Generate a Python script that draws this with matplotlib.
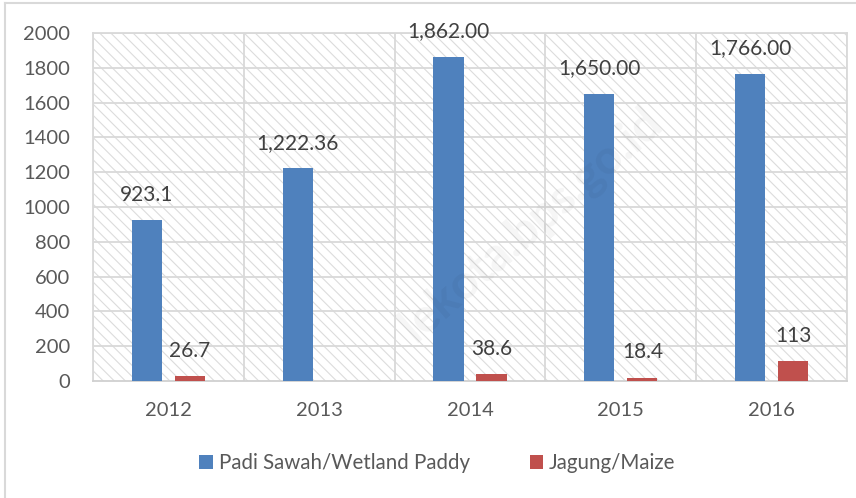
import numpy as np
import matplotlib
matplotlib.use("Agg")
import matplotlib.pyplot as plt
from matplotlib.patches import Rectangle
from matplotlib.lines import Line2D

# data
years = ["2012", "2013", "2014", "2015", "2016"]
padi = [923.1, 1222.36, 1862.00, 1650.00, 1766.00]
jagung = [26.7, np.nan, 38.6, 18.4, 113]
padi_labels = ["923.1", "1,222.36", "1,862.00", "1,650.00", "1,766.00"]
jagung_labels = ["26.7", "", "38.6", "18.4", "113"]

plt.rcParams['font.family'] = ['Lato', 'DejaVu Sans']
plt.rcParams['hatch.linewidth'] = 0.8

blue = "#4f81bd"
red = "#c0504d"
grid_c = "#d9d9d9"
txt_c = "#595959"

fig = plt.figure(figsize=(8.56, 4.98), dpi=100)
ax = fig.add_axes([93/856, 1 - 381/498, (847 - 93)/856, (381 - 33)/498])

# hatched plot background
bg = Rectangle((0, 0), 1, 1, transform=ax.transAxes, facecolor="white",
               edgecolor="#dcdcdc", hatch="\\\\\\", linewidth=0, zorder=0)
ax.add_patch(bg)

x = np.arange(len(years))
w = 0.2
off = 0.143
b1 = ax.bar(x - off, padi, w, color=blue, zorder=3, label="Padi Sawah/Wetland Paddy")
b2 = ax.bar(x + off, jagung, w, color=red, zorder=3, label="Jagung/Maize")

for xi, v, lab in zip(x - off, padi, padi_labels):
    ax.annotate(lab, (xi, v), xytext=(0, 18.5), textcoords="offset points",
                ha="center", va="center", fontsize=15, color="#404040", zorder=4)
for xi, v, lab in zip(x + off, jagung, jagung_labels):
    if lab:
        ax.annotate(lab, (xi, v), xytext=(0, 18.5), textcoords="offset points",
                    ha="center", va="center", fontsize=15, color="#404040", zorder=4)

ax.set_xlim(-0.5, len(years) - 0.5)
ax.set_ylim(0, 2000)
ax.set_yticks(range(0, 2001, 200))
ax.set_xticks(x)
ax.set_xticklabels(years)

# gridlines: horizontal at ticks, vertical at category boundaries
for yv in range(200, 2001, 200):
    ax.axhline(yv, color=grid_c, linewidth=1.3, zorder=1)
for xb in np.arange(-0.5, len(years), 1.0):
    ax.axvline(xb, color=grid_c, linewidth=1.3, zorder=1)

for s in ax.spines.values():
    s.set_color(grid_c)
    s.set_linewidth(1.3)
ax.spines['bottom'].set_color("#d0d0d0")
ax.tick_params(axis="both", length=0, labelsize=14.5, colors=txt_c)
ax.tick_params(axis="y", pad=16.5)
ax.tick_params(axis="x", pad=15)

leg = fig.legend(handles=[b1, b2], loc="center", bbox_to_anchor=(0.511, 1 - 463/498),
                 ncol=2, frameon=False, fontsize=14.8, handlelength=0.65,
                 handleheight=0.65, handletextpad=0.3, columnspacing=2.9)
for t in leg.get_texts():
    t.set_color(txt_c)

# faint watermark
fig.text(0.62, 0.55, "lekota.bps.go.id", rotation=41, fontsize=34, color="#000000",
         alpha=0.04, ha="center", va="center", fontweight="bold")

# outer border (top and left visible)
fig.add_artist(Line2D([5/856, 5/856], [0, 1 - 3/498], transform=fig.transFigure,
                      color=grid_c, linewidth=1.5))
fig.add_artist(Line2D([5/856, 1], [1 - 3/498, 1 - 3/498], transform=fig.transFigure,
                      color=grid_c, linewidth=1.5))

fig.savefig("out.png", dpi=100, facecolor="white")
